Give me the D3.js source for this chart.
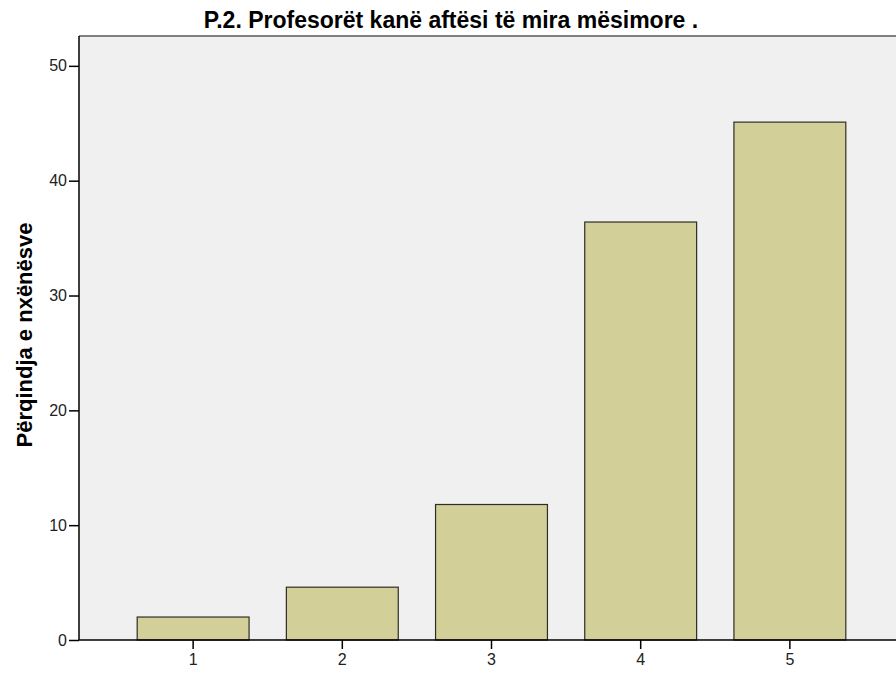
<!DOCTYPE html>
<html>
<head>
<meta charset="utf-8">
<script src="https://cdn.jsdelivr.net/npm/d3@7"></script>
<style>
  body { margin: 0; background: #fff; }
  svg { display: block; font-family: Arial, "Liberation Sans", sans-serif; }
  .tick text { font-size: 16px; fill: #222; }
</style>
</head>
<body>
<svg id="chart" width="896" height="673"></svg>
<script>
// Chart data
const categories = ['1', '2', '3', '4', '5'];
const values = [2.0, 4.6, 11.8, 36.4, 45.1];
const yTicks = [0, 10, 20, 30, 40, 50];

const title = 'P.2. Profesorët kanë aftësi të mira mësimore .';
const yLabel = 'Përqindja e nxënësve';

const svg = d3.select('#chart');
const padding = { top: 36, left: 79, right: -8, bottom: 33 };
const width = 896 - padding.left - padding.right;
const height = 673 - padding.top - padding.bottom;

const x = d3.scaleBand()
  .domain(categories)
  .range([0, width])
  .paddingInner(0.25)
  .paddingOuter(0.39);

const y = d3.scaleLinear()
  .domain([0, 52.6])
  .range([height, 0]);

const g = svg.append('g').attr('transform', `translate(${padding.left},${padding.top})`);

// Plot background
g.append('rect')
  .attr('width', width)
  .attr('height', height)
  .attr('fill', '#f0f0f0');

// Top frame line
g.append('line')
  .attr('x1', 0).attr('x2', width)
  .attr('y1', 0).attr('y2', 0)
  .attr('stroke', '#808080')
  .attr('stroke-width', 2);

// Bars
g.append('g').selectAll('rect')
  .data(values)
  .join('rect')
  .attr('x', (d, i) => x(categories[i]))
  .attr('y', d => y(d))
  .attr('width', x.bandwidth())
  .attr('height', d => y(0) - y(d))
  .attr('fill', '#d3cf98')
  .attr('stroke', '#2e2e25')
  .attr('stroke-width', 1.2);

// Axes
const yAxis = g.append('g')
  .call(d3.axisLeft(y).tickValues(yTicks).tickSize(10).tickPadding(2).tickFormat(d3.format('d')));

const xAxis = g.append('g')
  .attr('transform', `translate(0,${height})`)
  .call(d3.axisBottom(x).tickSize(9).tickPadding(5));

[yAxis, xAxis].forEach(ax => {
  ax.attr('font-family', 'Arial, "Liberation Sans", sans-serif').attr('font-size', 16);
  ax.select('.domain').attr('stroke', '#000').attr('stroke-width', 1.5);
  ax.selectAll('.tick line').attr('stroke', '#000').attr('stroke-width', 1.5);
  ax.selectAll('.tick text').attr('fill', '#222').attr('font-size', 16);
});
yAxis.select('.domain').attr('d', `M0,${height}V0`);
xAxis.select('.domain').attr('d', `M0,0H${width}`);

// Title
svg.append('text')
  .attr('x', 451)
  .attr('y', 28)
  .attr('text-anchor', 'middle')
  .attr('font-weight', 'bold')
  .attr('font-size', '23px')
  .attr('fill', '#000')
  .text(title);

// Y axis label
svg.append('text')
  .attr('transform', 'translate(32,335) rotate(-90)')
  .attr('text-anchor', 'middle')
  .attr('font-weight', 'bold')
  .attr('font-size', '22px')
  .attr('fill', '#000')
  .text(yLabel);
</script>
</body>
</html>
